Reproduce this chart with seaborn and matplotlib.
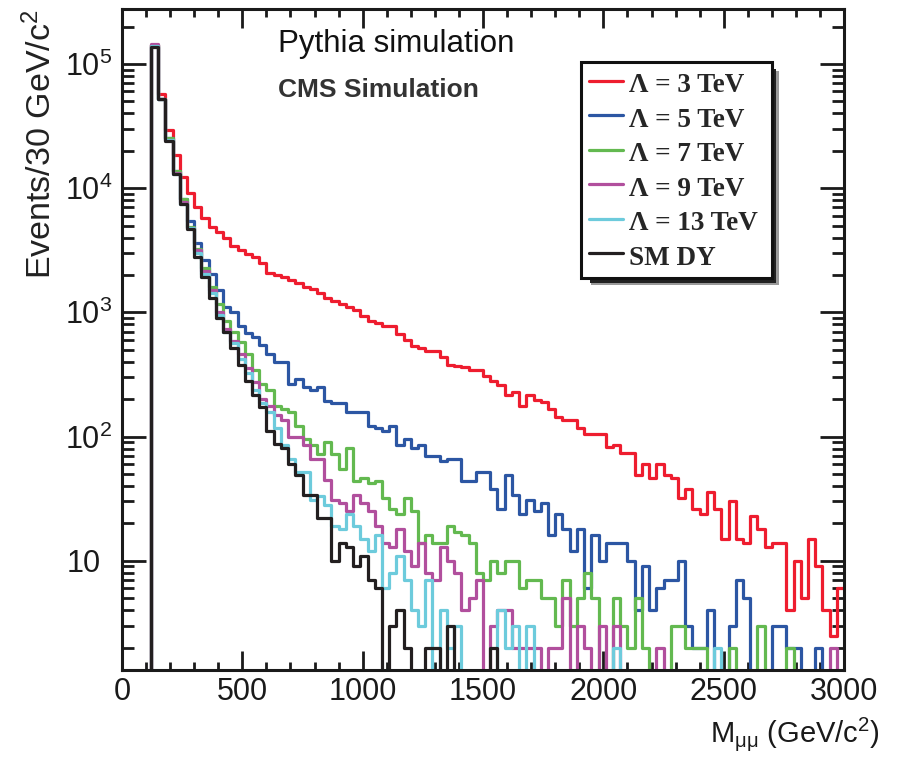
import numpy as np
import pandas as pd
import matplotlib
matplotlib.use("Agg")
import matplotlib.pyplot as plt
import seaborn as sns
from matplotlib.lines import Line2D
from matplotlib.patches import Rectangle
from matplotlib.transforms import IdentityTransform, ScaledTranslation
from matplotlib.ticker import FixedLocator, FixedFormatter, MultipleLocator, LogLocator, NullFormatter

# ---------------- data (events per 30 GeV bin, bins start at 120 GeV) ----------------
bin_width = 30
first_bin_low = 120
x_max = 3000

lambda_3tev = [142000, 57000, 29500, 18500, 12400, 9100, 7050, 5700, 4880, 4450,
               3950, 3400, 3180, 2950, 2780, 2480, 2090, 2000, 1940, 1820,
               1730, 1610, 1530, 1420, 1310, 1240, 1170, 1110, 1050, 940,
               857, 816, 776, 776, 666, 600, 540, 514, 489, 489,
               440, 377, 370, 361, 344, 344, 307, 282, 262, 216,
               230, 176, 216, 197, 188, 166, 145, 136, 136, 117,
               105, 105, 105, 83, 86, 74, 74, 49, 60, 46,
               60, 49, 46, 32, 38, 26, 24, 36, 26, 15,
               30, 15, 14, 23, 18, 13, 14, 14, 4, 10,
               5, 15, 9, 4, 2.5, 6]

lambda_5tev = [142000, 52000, 25200, 13700, 8200, 5440, 3640, 2640, 2040, 1510,
               1100, 1000, 776, 678, 629, 547, 463, 401, 401, 264,
               291, 249, 237, 249, 195, 185, 185, 159, 159, 159,
               122, 117, 111, 122, 86, 95, 81, 86, 70, 70,
               64, 66, 66, 44, 44, 52, 52, 38, 26, 49,
               34, 24, 31, 25, 29, 16, 24, 18, 12, 18,
               6, 16, 10, 14, 14, 14, 10, 4, 9, 4,
               6, 7, 7, 10, 3, 2, 2, 4, 0, 0,
               3, 7, 5, 0, 0, 0, 3, 3, 2, 2,
               0, 0, 2, 0, 0, 0]

lambda_7tev = [142000, 52000, 25200, 13700, 8200, 4900, 3220, 2260, 1610, 1170,
               853, 700, 574, 463, 344, 265, 237, 176, 167, 158,
               122, 95, 86, 73, 91, 73, 55, 81, 44, 46,
               42, 44, 32, 26, 24, 32, 25, 14, 16, 14,
               14, 19, 17, 16, 14, 8, 7, 10, 8, 10,
               10, 6, 7, 7, 5, 5, 3, 7, 3, 5,
               8, 5, 1, 1, 5, 3, 2, 5, 2, 0,
               0, 0, 3, 3, 2, 2, 2, 0, 0, 0,
               2, 0, 0, 0, 3, 0, 0, 0, 2, 0,
               0, 0, 0, 0, 0, 0]

lambda_9tev = [144000, 52000, 24500, 13200, 7700, 4800, 3150, 2150, 1500, 1000,
               731, 592, 460, 355, 277, 201, 176, 150, 136, 100,
               100, 86, 66, 66, 45, 31, 29, 25, 34, 29,
               25, 19, 14, 13, 18, 12, 9, 14, 8, 7,
               13, 10, 8, 4, 5, 7, 0, 3, 4, 4,
               2, 2, 2, 2, 0, 2, 2, 5, 0, 3,
               2, 0, 3, 0, 3, 0, 0, 0, 0, 0,
               2, 0, 0, 0, 0, 0, 0, 0, 0, 0,
               0, 0, 0, 0, 0, 0, 0, 0, 0, 0,
               0, 0, 0, 0, 2, 0]

lambda_13tev = [140000, 52000, 24200, 13100, 7500, 4750, 3000, 2040, 1430, 955,
                700, 564, 419, 324, 237, 185, 159, 117, 86, 66,
                52, 52, 31, 33, 28, 19, 18, 24, 19, 15,
                12, 16, 6, 8, 11, 7, 4, 3, 7, 0,
                4, 2, 3, 0, 0, 0, 0, 0, 4, 2,
                3, 0, 3, 0, 0, 0, 0, 0, 0, 0,
                0, 0, 0, 0, 2, 0, 0, 0, 0, 0,
                0, 0, 0, 0, 0, 0, 0, 0, 2, 0,
                0, 0, 0, 0, 0, 0, 0, 0, 0, 0,
                0, 0, 0, 0, 0, 0]

sm_dy = [138000, 52000, 24100, 13000, 7400, 4690, 2780, 1940, 1300, 895,
         700, 514, 377, 282, 216, 174, 111, 87, 81, 60,
         49, 34, 34, 22, 22, 10, 14, 13, 9, 11,
         7, 6, 0, 3, 4, 2, 0, 0, 2, 2,
         0, 3, 0, 0, 0, 0, 0, 2, 0, 0,
         0, 0, 0, 0, 0, 0, 0, 0, 0, 0,
         0, 0, 0, 0, 0, 0, 0, 0, 0, 0,
         0, 0, 0, 0, 0, 0, 0, 0, 0, 0,
         0, 0, 0, 0, 0, 0, 0, 0, 0, 0,
         0, 0, 0, 0, 0, 0]

series_labels = ["Λ = 3 TeV", "Λ = 5 TeV", "Λ = 7 TeV", "Λ = 9 TeV", "Λ = 13 TeV", "SM DY"]
series_colors = ["#ee1d2f", "#2c56a3", "#63b950", "#b14f9d", "#6dcbdc", "#231f20"]

x_tick_values = [0, 500, 1000, 1500, 2000, 2500, 3000]
x_tick_labels = ["0", "500", "1000", "1500", "2000", "2500", "3000"]
y_tick_values = [10, 100, 1000, 10000, 100000]
y_tick_labels = ["10", r"$10^{2}$", r"$10^{3}$", r"$10^{4}$", r"$10^{5}$"]

# ---------------- style ----------------
sns.set_style("ticks")
plt.rcParams["font.family"] = ["Liberation Sans", "DejaVu Sans"]
plt.rcParams["mathtext.fontset"] = "custom"
plt.rcParams["mathtext.rm"] = "Liberation Sans"
plt.rcParams["mathtext.it"] = "Liberation Sans:italic"
plt.rcParams["mathtext.bf"] = "Liberation Sans:bold"
plt.rcParams["mathtext.default"] = "regular"

series_values = [lambda_3tev, lambda_5tev, lambda_7tev, lambda_9tev, lambda_13tev, sm_dy]
n_bins = len(lambda_3tev)
centers = first_bin_low + bin_width * (np.arange(n_bins) + 0.5)
df = pd.DataFrame({
    "mass": np.tile(centers, len(series_values)),
    "events": np.concatenate([np.asarray(v, dtype=float) for v in series_values]),
    "model": np.repeat(series_labels, n_bins),
})
edges = [float(e) for e in np.arange(0, x_max + bin_width, bin_width)]

fig = plt.figure(figsize=(8.97, 7.61), dpi=100)
ax = fig.add_axes([0.136, 0.1196, 0.805, 0.8686])

for label, color in zip(series_labels, series_colors):
    sns.histplot(data=df[df["model"] == label], x="mass", weights="events",
                 bins=edges, element="step", fill=False, color=color,
                 linewidth=2.3, ax=ax)

ax.set_yscale("log")
ax.set_xlim(0, x_max)
ax.set_ylim(1.32, 2.77e5)

# ticks
ax.xaxis.set_major_locator(FixedLocator(x_tick_values))
ax.xaxis.set_major_formatter(FixedFormatter(x_tick_labels))
ax.xaxis.set_minor_locator(MultipleLocator(100))
ax.yaxis.set_major_locator(FixedLocator(y_tick_values))
ax.yaxis.set_major_formatter(FixedFormatter(y_tick_labels))
ax.yaxis.set_minor_locator(LogLocator(base=10, subs=np.arange(2, 10)))
ax.yaxis.set_minor_formatter(NullFormatter())

ax.tick_params(which="both", direction="in", top=True, right=True,
               color="#1a1a1a", width=2.0, labelcolor="#1a1a1a")
ax.tick_params(axis="x", which="major", length=14, labelsize=22, pad=5)
ax.tick_params(axis="x", which="minor", length=6)
ax.tick_params(axis="y", which="major", length=17, labelsize=22, pad=7)
ax.tick_params(axis="y", which="minor", length=8.5)

for sp in ax.spines.values():
    sp.set_linewidth(2.2)
    sp.set_color("#1a1a1a")
    sp.set_visible(True)

# labels
ax.set_xlabel(r"M$_{\mu\mu}$ (GeV/c$^{2}$)", fontsize=21, color="#1a1a1a")
ax.xaxis.label.set_horizontalalignment("right")
ax.xaxis.set_label_coords(1.05, -0.069)
ax.set_ylabel(r"Events/30 GeV/c$^{2}$", fontsize=24.5, color="#222222", loc="top")
ax.yaxis.set_label_coords(-0.088, 1.0)

ax.text(0.216, 0.935, "Pythia simulation", transform=ax.transAxes,
        fontsize=22.5, ha="left", va="baseline", color="#111111")
ax.text(0.216, 0.867, "CMS Simulation", transform=ax.transAxes,
        fontsize=19, fontweight="bold", ha="left", va="baseline", color="#333333")

# legend
handles = [Line2D([], [], color=c, lw=2.3) for c in series_colors]
leg = ax.legend(handles, series_labels, loc="upper left",
                bbox_to_anchor=(0.636, 0.0, 0.264, 0.920), mode="expand",
                borderaxespad=0, frameon=True, fancybox=False, framealpha=1,
                edgecolor="#111111", handlelength=1.25, handletextpad=0.22,
                handleheight=1.2, borderpad=0.28, labelspacing=0.2,
                prop={"family": "Liberation Serif", "weight": "bold", "size": 19.5})
leg.get_frame().set_linewidth(2.2)
leg.set_zorder(6)

fig.canvas.draw()
# shift the plain "10" label left so its digits line up with the "10" of the others
tick10 = ax.yaxis.get_major_ticks()[0]
tick10.label1.set_transform(tick10.label1.get_transform()
                            + ScaledTranslation(-0.12, 0, fig.dpi_scale_trans))

bb = leg.get_window_extent(fig.canvas.get_renderer())
shadow_gray = Rectangle((bb.x0 + 10, bb.y0 - 7), bb.width - 3, bb.height - 2,
                        transform=IdentityTransform(), facecolor="#9a9a9a",
                        edgecolor="none", zorder=5.5, clip_on=False)
shadow_dark = Rectangle((bb.x0 + 9, bb.y0 - 4.5), bb.width - 5, bb.height - 3,
                        transform=IdentityTransform(), facecolor="#222222",
                        edgecolor="none", zorder=5.6, clip_on=False)
ax.add_artist(shadow_gray)
ax.add_artist(shadow_dark)

fig.savefig("out.png", dpi=100)
